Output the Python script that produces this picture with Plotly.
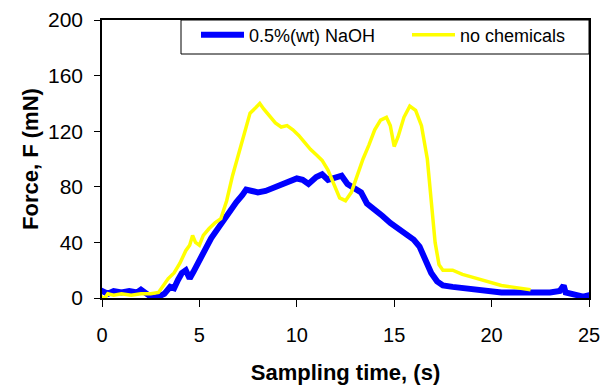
import plotly.graph_objects as go

# 0.5%(wt) NaOH series
t_naoh = [-0.2, 0.0, 0.3, 0.6, 1.0, 1.4, 1.8, 2.0, 2.3, 2.6, 2.9, 3.2, 3.5, 3.7, 3.9, 4.1, 4.3, 4.5,
          4.7, 5.0, 5.3, 5.6, 6.0, 6.3, 6.6, 6.9, 7.2, 7.4, 7.7, 8.0, 8.4, 8.8, 9.2, 9.6, 10.0, 10.3,
          10.6, 11.0, 11.3, 11.6, 12.0, 12.3, 12.6, 13.0, 13.3, 13.6, 14.0, 14.4, 14.8, 15.2, 15.6,
          16.0, 16.3, 16.6, 16.9, 17.2, 17.5, 18.0, 18.5, 19.0, 19.5, 20.0, 20.5, 21.0, 21.5, 22.0,
          22.5, 23.0, 23.5, 23.7, 23.8, 24.2, 24.7, 25.0, 25.3]
f_naoh = [4, 5, 3, 5, 4, 5, 4, 6, 3, 0, 1, 3, 8, 7, 13, 18, 20, 14,
          19, 27, 35, 43, 51, 57, 64, 69, 74, 78, 77, 76, 77, 79, 82, 84, 86, 85,
          82, 87, 89, 85, 87, 88, 82, 79, 76, 68, 64, 59, 54, 50, 47,
          42, 37, 27, 18, 12, 9, 8, 7, 6, 6, 5, 4, 4, 4, 3,
          4, 4, 5, 9, 4, 3, 1, 2, 2]

# no chemicals series
t_none = [-0.1, 0.0, 0.1, 0.3, 0.6, 1.0, 1.5, 2.0, 2.5, 2.9, 3.1, 3.4, 3.7, 4.0, 4.3, 4.5, 4.65, 4.8,
          5.0, 5.2, 5.5, 5.8, 6.1, 6.4, 6.7, 7.0, 7.3, 7.6, 7.9, 8.1, 8.3, 8.6, 8.9, 9.2, 9.5, 9.8,
          10.1, 10.4, 10.7, 11.0, 11.3, 11.6, 11.9, 12.2, 12.5, 12.8, 13.1, 13.4, 13.7, 14.0, 14.3,
          14.6, 14.8, 15.0, 15.2, 15.5, 15.8, 16.1, 16.4, 16.7, 16.9, 17.1, 17.3, 17.5, 18.0, 18.5,
          19.0, 19.5, 20.0, 20.5, 21.0, 21.5, 22.0]
f_none = [2, 0, -1, 3, 2, 3, 2, 3, 3, 4, 8, 14, 18, 25, 34, 38, 45, 40,
          38, 45, 50, 54, 57, 70, 88, 103, 120, 133, 137, 140, 136, 131, 126, 123, 124, 121,
          117, 112, 107, 103, 99, 92, 82, 72, 70, 76, 88, 100, 110, 121, 128,
          130, 124, 109, 116, 130, 138, 135, 124, 100, 70, 40, 24, 20, 20, 17,
          15, 13, 11, 9, 8, 7, 6]

x_ticks = [0, 5, 10, 15, 20, 25]
y_ticks = [0, 40, 80, 120, 160, 200]

FONT = "Arial, Liberation Sans, sans-serif"

fig = go.Figure()
fig.add_trace(go.Scatter(x=t_naoh, y=f_naoh, mode="lines", name="0.5%(wt) NaOH",
                         line=dict(color="#0000FF", width=6)))
fig.add_trace(go.Scatter(x=t_none, y=f_none, mode="lines", name="no chemicals",
                         line=dict(color="#FFFF00", width=3.5)))

fig.update_layout(
    width=601, height=385,
    margin=dict(l=102, r=12, t=20, b=87, autoexpand=False),
    paper_bgcolor="white", plot_bgcolor="white",
    font=dict(family=FONT, color="black", size=20),
    showlegend=True,
    legend=dict(orientation="h", x=0.193, y=1.012, xanchor="left", yanchor="top",
                bgcolor="rgba(0,0,0,0)", font=dict(size=18, family=FONT),
                itemwidth=43, entrywidth=153, entrywidthmode="pixels"),
    shapes=[dict(type="rect", xref="paper", yref="paper",
                 x0=(181 - 102) / 487, x1=1, y0=(298 - 54) / 278, y1=1,
                 line=dict(color="black", width=1), fillcolor="white", layer="below")],
)
fig.update_xaxes(range=[0, 25], tickvals=x_ticks, ticks="outside", ticklen=7,
                 tickcolor="black", showline=True, linecolor="black", linewidth=2,
                 mirror=True, showgrid=False, zeroline=False, automargin=False,
                 tickfont=dict(size=20), ticklabelstandoff=11,
                 title=dict(text="<b>Sampling time, (s)</b>", font=dict(size=22), standoff=20))
fig.update_yaxes(range=[0, 200], tickvals=y_ticks, ticks="outside", ticklen=6,
                 tickcolor="black", showline=True, linecolor="black", linewidth=1.5,
                 mirror=True, showgrid=False, zeroline=False, automargin=False,
                 tickfont=dict(size=21), ticklabelstandoff=7,
                 title=dict(text="<b>Force, F (mN)</b>", font=dict(size=22), standoff=3))

fig.write_html("out.html", config={"displayModeBar": False},
               post_script="document.body.style.margin='0';document.body.style.overflow='hidden';")
